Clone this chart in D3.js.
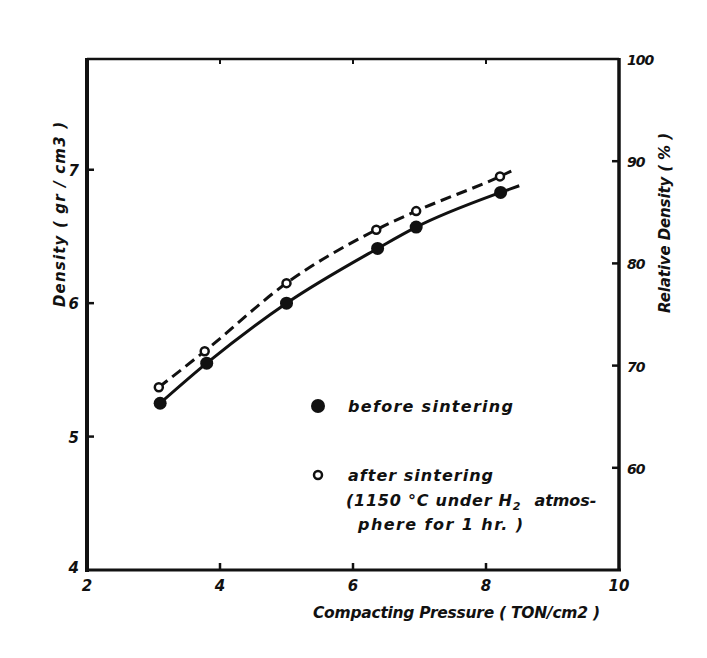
<!DOCTYPE html>
<html>
<head>
<meta charset="utf-8">
<script src="https://cdn.jsdelivr.net/npm/d3@7"></script>
<style>
  body { margin: 0; background: #fff; }
  text { font-family: "DejaVu Sans", "Liberation Sans", sans-serif; font-style: italic; font-weight: bold; fill: #111; }
</style>
</head>
<body>
<svg width="707" height="658"></svg>
<script>
// values
const pressure = [3.1, 3.8, 5.0, 6.37, 6.95, 8.22];
const beforeDensity = [5.25, 5.55, 6.0, 6.41, 6.57, 6.83];
const afterPressure = [3.08, 3.77, 5.0, 6.35, 6.95, 8.21];
const afterDensity = [5.37, 5.64, 6.15, 6.55, 6.69, 6.95];
// where the drawn curves stop past the last point
const beforeEnd = [8.5, 6.88];
const afterEnd = [8.38, 6.99];

const xTicks = [2, 4, 6, 8, 10];
const yTicks = [4, 5, 6, 7];
const relTicks = [60, 70, 80, 90, 100];

const svg = d3.select('svg');
const pLeft = 87, pRight = 619, pTop = 59, pBottom = 570;

const x = d3.scaleLinear().domain([2, 10]).range([pLeft, pRight]);
const y = d3.scaleLinear().domain([4, 7.83]).range([pBottom, pTop]);
const yRel = d3.scaleLinear().domain([50, 100]).range([pBottom, pTop]);

const g = svg.append('g');

// frame
g.append('line').attr('x1', pLeft).attr('x2', pRight).attr('y1', pTop).attr('y2', pTop)
  .attr('stroke', '#111').attr('stroke-width', 2.5);
g.append('line').attr('x1', pLeft).attr('x2', pLeft).attr('y1', pTop - 1).attr('y2', pBottom + 2)
  .attr('stroke', '#111').attr('stroke-width', 4);
g.append('line').attr('x1', pLeft - 2).attr('x2', pRight + 2).attr('y1', pBottom).attr('y2', pBottom)
  .attr('stroke', '#111').attr('stroke-width', 3);
g.append('line').attr('x1', pRight).attr('x2', pRight).attr('y1', pTop - 1).attr('y2', pBottom + 1)
  .attr('stroke', '#111').attr('stroke-width', 3.5);

// ticks (pointing inward)
const inner = xTicks.slice(1, -1);
g.selectAll('.xt').data(inner).join('line')
  .attr('x1', d => x(d)).attr('x2', d => x(d))
  .attr('y1', pBottom).attr('y2', pBottom - 7)
  .attr('stroke', '#111').attr('stroke-width', 2.5);
g.selectAll('.xtt').data(inner).join('line')
  .attr('x1', d => x(d)).attr('x2', d => x(d))
  .attr('y1', pTop).attr('y2', pTop + 5)
  .attr('stroke', '#111').attr('stroke-width', 2);
g.selectAll('.yt').data(yTicks.slice(1)).join('line')
  .attr('x1', pLeft).attr('x2', pLeft + 7)
  .attr('y1', d => y(d)).attr('y2', d => y(d))
  .attr('stroke', '#111').attr('stroke-width', 2.5);
g.selectAll('.rt').data(relTicks.slice(0, -1)).join('line')
  .attr('x1', pRight).attr('x2', pRight - 7)
  .attr('y1', d => yRel(d)).attr('y2', d => yRel(d))
  .attr('stroke', '#111').attr('stroke-width', 2.5);

// tick labels
g.selectAll('.xl').data(xTicks).join('text')
  .attr('x', d => x(d)).attr('y', pBottom + 21)
  .attr('text-anchor', 'middle').attr('font-size', 15)
  .text(d => d);
g.selectAll('.yl').data(yTicks).join('text')
  .attr('x', pLeft - 8).attr('y', d => y(d) + (d === 4 ? 3 : 6))
  .attr('text-anchor', 'end').attr('font-size', 15)
  .text(d => d);
g.selectAll('.rl').data(relTicks).join('text')
  .attr('x', pRight + 8).attr('y', d => yRel(d) + 6)
  .attr('font-size', 14).attr('letter-spacing', -1)
  .text(d => d);

// axis titles
g.append('text')
  .attr('transform', `translate(65,${(122 + 307) / 2}) rotate(-90)`)
  .attr('text-anchor', 'middle').attr('font-size', 15)
  .attr('textLength', 185).attr('lengthAdjust', 'spacing')
  .text('Density ( gr / cm3 )');
g.append('text')
  .attr('transform', `translate(670,${(133 + 313) / 2}) rotate(-90)`)
  .attr('text-anchor', 'middle').attr('font-size', 15)
  .attr('textLength', 180).attr('lengthAdjust', 'spacing')
  .text('Relative  Density  ( % )');
g.append('text')
  .attr('x', 313).attr('y', 618).attr('font-size', 15.5)
  .attr('textLength', 287).attr('lengthAdjust', 'spacing')
  .text('Compacting  Pressure ( TON/cm2 )');

// curves
const line = d3.line().x(d => x(d[0])).y(d => y(d[1])).curve(d3.curveMonotoneX);
const beforePts = pressure.map((p, i) => [p, beforeDensity[i]]);
const afterPts = afterPressure.map((p, i) => [p, afterDensity[i]]);

g.append('path').attr('d', line(beforePts.concat([beforeEnd])))
  .attr('fill', 'none').attr('stroke', '#111').attr('stroke-width', 3);
g.append('path').attr('d', line(afterPts.concat([afterEnd])))
  .attr('fill', 'none').attr('stroke', '#111').attr('stroke-width', 3)
  .attr('stroke-dasharray', '11 6');

// markers
g.selectAll('.bp').data(beforePts).join('circle')
  .attr('cx', d => x(d[0])).attr('cy', d => y(d[1])).attr('r', 6.5)
  .attr('fill', '#111');
g.selectAll('.ap').data(afterPts).join('circle')
  .attr('cx', d => x(d[0])).attr('cy', d => y(d[1])).attr('r', 4)
  .attr('fill', '#fff').attr('stroke', '#111').attr('stroke-width', 2.5);

// legend
const lg = g.append('g');
lg.append('circle').attr('cx', 318).attr('cy', 406).attr('r', 7).attr('fill', '#111');
lg.append('text').attr('x', 348).attr('y', 412).attr('font-size', 16)
  .attr('textLength', 165).attr('lengthAdjust', 'spacing')
  .text('before  sintering');
lg.append('circle').attr('cx', 318).attr('cy', 475).attr('r', 4)
  .attr('fill', '#fff').attr('stroke', '#111').attr('stroke-width', 2.5);
lg.append('text').attr('x', 348).attr('y', 481).attr('font-size', 16)
  .attr('textLength', 145).attr('lengthAdjust', 'spacing')
  .text('after  sintering');
const l2 = lg.append('text').attr('x', 346).attr('y', 506).attr('font-size', 16);
l2.append('tspan').attr('textLength', 166).attr('lengthAdjust', 'spacing').text('(1150 °C under H');
l2.append('tspan').attr('dy', 4).attr('font-size', 11).text('2');
l2.append('tspan').attr('dy', -4).attr('dx', 14).attr('textLength', 62).attr('lengthAdjust', 'spacing').text('atmos-');
lg.append('text').attr('x', 358).attr('y', 530).attr('font-size', 16)
  .attr('textLength', 165).attr('lengthAdjust', 'spacing')
  .text('phere  for  1 hr. )');
</script>
</body>
</html>
